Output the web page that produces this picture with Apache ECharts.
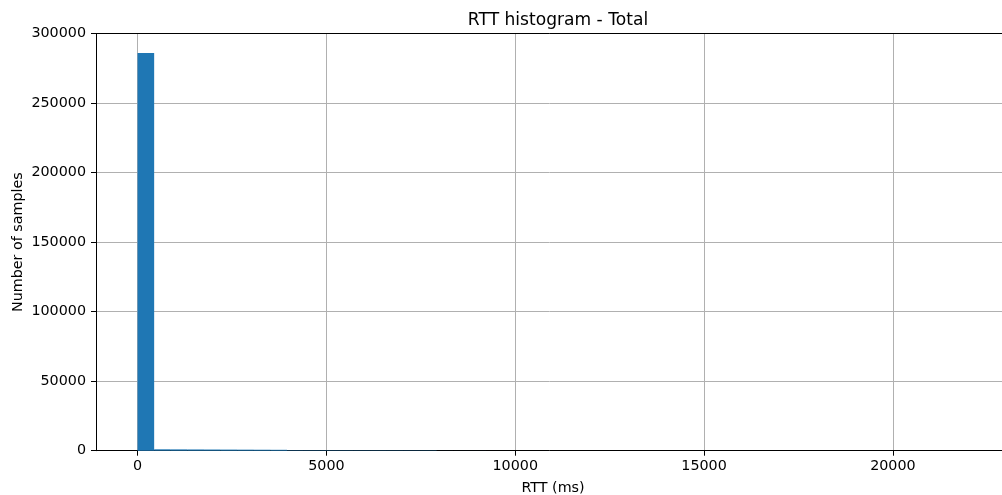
<!DOCTYPE html>
<html>
<head>
<meta charset="utf-8">
<script src="https://cdn.jsdelivr.net/npm/echarts@6/dist/echarts.min.js"></script>
<style>
html,body{margin:0;padding:0;background:#fff;}
#chart{width:1002px;height:495px;}
</style>
</head>
<body>
<div id="chart"></div>
<script>
// Histogram bins (ms): 50 bins of width 440 from 0 to 22000
const binStart = 0;
const binWidth = 440;
const counts = [
  286000, 1000, 950, 900, 850, 800, 750, 700, 650,
  320, 300, 290, 280, 270, 260, 250, 240, 230,
  40, 30, 25, 20, 15, 10, 10, 8, 6, 5, 5, 4,
  3, 3, 2, 2, 2, 1, 1, 1, 1, 1,
  0, 0, 1, 0, 0, 1, 0, 0, 0, 1
];
const xTicks = [0, 5000, 10000, 15000, 20000];
const yTicks = [0, 50000, 100000, 150000, 200000, 250000, 300000];

const bins = counts.map((c, i) => [binStart + i * binWidth, binStart + (i + 1) * binWidth, c]);

const chart = echarts.init(document.getElementById('chart'), null, {renderer: 'canvas'});
const font = 'DejaVu Sans';
const fs = 14.3;
const plain = v => String(v);
chart.setOption({
  animation: false,
  backgroundColor: '#ffffff',
  title: {
    text: 'RTT histogram - Total',
    left: 553, top: 7, textAlign: 'center',
    textStyle: {fontFamily: font, fontSize: 17.1, fontWeight: 'normal', color: '#000'}
  },
  grid: {left: 96, right: -8, top: 33.5, bottom: 44.3, containLabel: false, outerBoundsMode: 'none'},
  xAxis: [{
    type: 'value',
    min: -1100, max: 23100,
    name: 'RTT (ms)', nameLocation: 'middle', nameGap: 31, nameMoveOverlap: false,
    nameTextStyle: {fontFamily: font, fontSize: fs, color: '#000'},
    axisLine: {show: true, onZero: false, lineStyle: {color: '#000', width: 1}},
    axisTick: {show: true, length: 5, customValues: xTicks, lineStyle: {color: '#000', width: 1}},
    axisLabel: {customValues: xTicks, margin: 9, fontFamily: font, fontSize: fs, color: '#000', formatter: plain},
    splitLine: {show: true, lineStyle: {color: '#b0b0b0', width: 1}}
  }, {
    type: 'value', position: 'top',
    min: -1100, max: 23100,
    axisLine: {show: true, onZero: false, lineStyle: {color: '#000', width: 1}},
    axisTick: {show: false}, axisLabel: {show: false}, splitLine: {show: false}
  }],
  yAxis: {
    type: 'value',
    min: 0, max: 300000, interval: 50000,
    name: 'Number of samples', nameLocation: 'middle', nameGap: 71, nameMoveOverlap: false,
    nameTextStyle: {fontFamily: font, fontSize: fs, color: '#000'},
    axisLine: {show: true, onZero: false, lineStyle: {color: '#000', width: 1}},
    axisTick: {show: true, length: 5, lineStyle: {color: '#000', width: 1}},
    axisLabel: {margin: 10, fontFamily: font, fontSize: fs, color: '#000', formatter: plain},
    splitLine: {show: true, lineStyle: {color: '#b0b0b0', width: 1}}
  },
  series: [{
    type: 'custom',
    xAxisIndex: 0,
    data: bins,
    encode: {x: [0, 1], y: 2},
    z: 3,
    renderItem: function (params, api) {
      const p0 = api.coord([api.value(0), 0]);
      const p1 = api.coord([api.value(1), api.value(2)]);
      return {
        type: 'rect',
        shape: {x: p0[0], y: p1[1], width: p1[0] - p0[0], height: p0[1] - p1[1]},
        style: {fill: '#1f77b4'}
      };
    }
  }]
});
</script>
</body>
</html>
